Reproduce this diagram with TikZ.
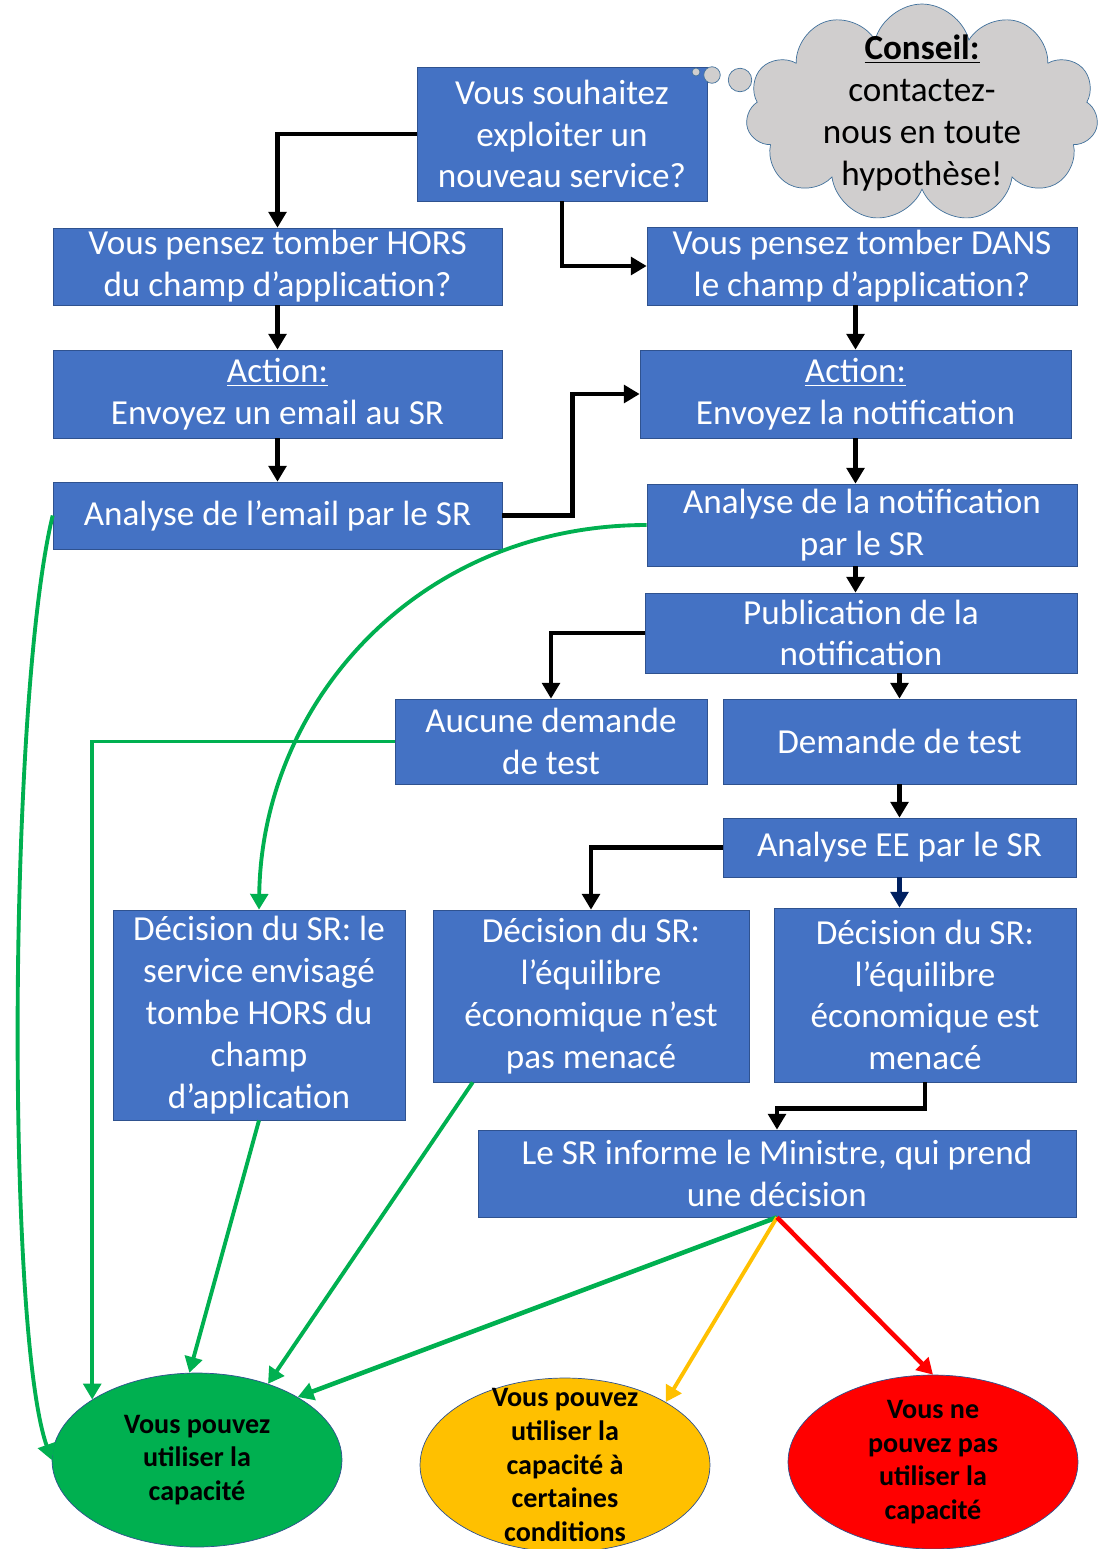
\documentclass[tikz,border=0pt]{standalone}
\usepackage{fontspec}
\setmainfont{Carlito}
\usetikzlibrary{shapes, shapes.symbols, arrows.meta, positioning, calc}
\definecolor{boxblue}{RGB}{68, 114, 196}
\definecolor{boxline}{RGB}{47, 82, 143}
\definecolor{okgreen}{RGB}{0, 176, 80}
\definecolor{warnyellow}{RGB}{255, 192, 0}
\definecolor{stopred}{RGB}{255, 0, 0}
\definecolor{cloudgray}{RGB}{208, 206, 206}
\definecolor{cloudline}{RGB}{65, 113, 156}
\definecolor{darknavy}{RGB}{0, 32, 96}

\begin{document}
\begin{tikzpicture}[
    x=0.02cm, y=-0.02cm,
    flowbox/.style={rectangle, draw=boxline, fill=boxblue, text=white, align=center, inner sep=0pt, font=\fontsize{20}{23.8}\selectfont},
    outcome/.style={ellipse, draw=boxline, minimum width=5.8cm, minimum height=3.48cm, align=center, inner sep=0pt, font=\bfseries\fontsize{16}{19.2}\selectfont},
    link/.style={-{Triangle[length=9pt, width=10pt]}, line width=2.6pt},
    greenlink/.style={link, okgreen, line width=2.2pt},
    bubble/.style={circle, draw=cloudline, fill=cloudgray, inner sep=0pt}
]
    \useasboundingbox (0,0) rectangle (1099,1549);

    \node[flowbox, minimum width=5.8cm, minimum height=2.68cm] (start) at (562,134) {Vous souhaitez\\exploiter un\\nouveau service?};
    \node[flowbox, minimum width=8.98cm, minimum height=1.54cm] (hors) at (277.5,266.5) {Vous pensez tomber HORS\\du champ d’application?};
    \node[flowbox, minimum width=8.6cm, minimum height=1.56cm] (dans) at (862,266) {Vous pensez tomber DANS\\le champ d’application?};
    \node[flowbox, minimum width=8.98cm, minimum height=1.76cm] (actmail) at (277.5,394) {\underline{Action:}\\Envoyez un email au SR};
    \node[flowbox, minimum width=8.62cm, minimum height=1.76cm] (actnotif) at (855.5,394) {\underline{Action:}\\Envoyez la notification};
    \node[flowbox, minimum width=8.98cm, minimum height=1.34cm] (anamail) at (277.5,515.5) {Analyse de l’email par le SR};
    \node[flowbox, minimum width=8.6cm, minimum height=1.64cm] (ananotif) at (862,525) {Analyse de la notification\\par le SR};
    \node[flowbox, minimum width=8.64cm, minimum height=1.6cm] (publi) at (861,633) {Publication de la\\notification};
    \node[flowbox, minimum width=6.24cm, minimum height=1.7cm] (nodemand) at (551,741.5) {Aucune demande\\de test};
    \node[flowbox, minimum width=7.06cm, minimum height=1.7cm] (demand) at (899.5,741.5) {Demande de test};
    \node[flowbox, minimum width=7.06cm, minimum height=1.18cm] (anaee) at (899.5,847.5) {Analyse EE par le SR};
    \node[flowbox, minimum width=5.84cm, minimum height=4.2cm] (dechors) at (259,1015) {Décision du SR: le\\service envisagé\\tombe HORS du\\champ\\d’application};
    \node[flowbox, minimum width=6.32cm, minimum height=3.44cm] (decsafe) at (591,996) {Décision du SR:\\l’équilibre\\économique n’est\\pas menacé};
    \node[flowbox, minimum width=6.04cm, minimum height=3.48cm] (decrisk) at (925,995) {Décision du SR:\\l’équilibre\\économique est\\menacé};
    \node[flowbox, minimum width=11.96cm, minimum height=1.74cm] (minister) at (777,1173.5) {Le SR informe le Ministre, qui prend\\une décision};

    \node[outcome, fill=okgreen] (yes) at (197,1460) {Vous pouvez\\utiliser la\\capacité};
    \node[outcome, fill=warnyellow, inner ysep=-14pt] (maybe) at (565,1465) {Vous pouvez\\utiliser la\\capacité à\\certaines\\conditions};
    \node[outcome, fill=stopred, inner ysep=-5pt] (no) at (933,1462) {Vous ne\\pouvez pas\\utiliser la\\capacité};

    % bulle de conseil
    \node[cloud, cloud puffs=11, cloud ignores aspect, draw=cloudline, fill=cloudgray, minimum width=7.05cm, minimum height=4.36cm, inner xsep=0pt, inner ysep=-16pt, align=center, font=\fontsize{20}{23.8}\selectfont] (tip) at (922,113) {\underline{\textbf{Conseil:}}\\contactez-\\nous en toute\\hypothèse!};
    \node[bubble, minimum size=0.16cm] (b1) at (696,72) {};
    \node[bubble, minimum size=0.33cm] (b2) at (712,75) {};
    \node[bubble, minimum size=0.47cm] (b3) at (740,80) {};

    \draw[link] (start.west) -| (hors.north);
    \draw[link] (start.south) |- (dans.west);
    \draw[link] (hors.south) -- (actmail.north);
    \draw[link] (actnotif.north |- dans.south) -- (actnotif.north);
    \draw[link] (actmail.south) -- (anamail.north);
    \draw[link] (anamail.east) -- ++(70,0) |- (actnotif.west);
    \draw[link] (actnotif.south) -- (actnotif.south |- ananotif.north);
    \draw[link] (actnotif.south |- ananotif.south) -- (actnotif.south |- publi.north);
    \draw[link] (publi.west) -| (nodemand.north);
    \draw[link] (demand.north |- publi.south) -- (demand.north);
    \draw[link] (demand.south) -- (anaee.north);
    \draw[link] (anaee.west) -| (decsafe.north);
    \draw[link, darknavy] (anaee.south) -- (anaee.south |- decrisk.north);
    \draw[link] (decrisk.south) -- ++(0,26) -| (minister.north);

    \draw[greenlink] (anamail.west) .. controls (8,700) and (6,1330) .. (yes.west);
    \draw[greenlink] (ananotif.west) .. controls (420,525) and (262,700) .. (dechors.north);
    \draw[greenlink] (nodemand.west) -| (yes.150);
    \draw[greenlink] (dechors.south) -- (yes.95);
    \draw[greenlink] ($(decsafe.south west)+(40,0)$) -- (yes.47);
    \draw[greenlink, line width=2.6pt] (minister.south) -- (yes.32);
    \draw[link, warnyellow, line width=2.2pt] (minister.south) -- (maybe.32);
    \draw[link, stopred] (minister.south) -- (no.north);
\end{tikzpicture}
\end{document}
